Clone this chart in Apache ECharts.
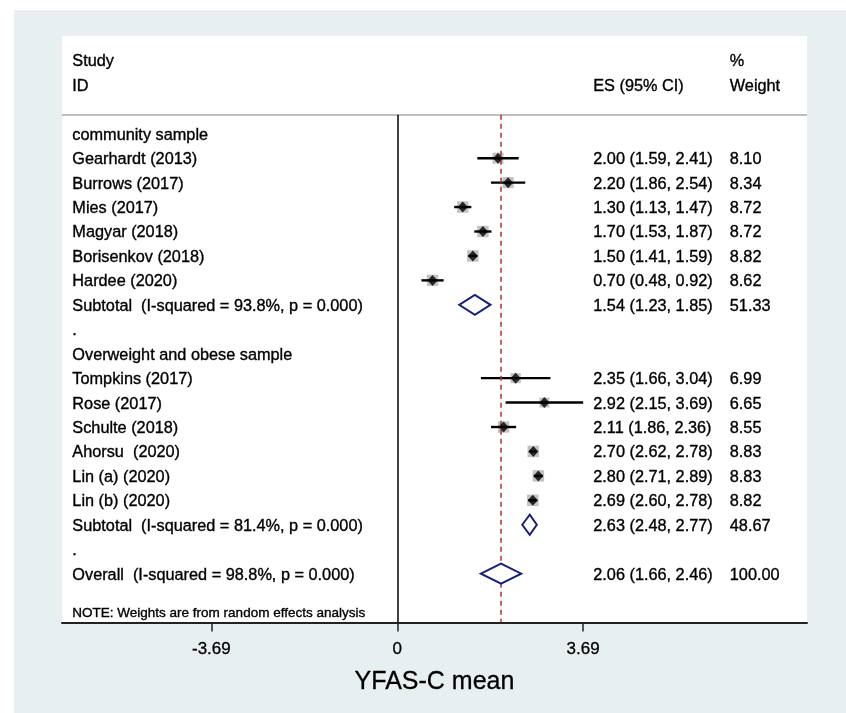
<!DOCTYPE html>
<html>
<head>
<meta charset="utf-8">
<script src="https://cdn.jsdelivr.net/npm/echarts@6/dist/echarts.min.js"></script>
<style>
html,body{margin:0;padding:0;background:#fff;}
#chart{width:846px;height:713px;}
</style>
</head>
<body>
<div id="chart"></div>
<script>
// ---------- data ----------
const rowLabels = [
  "community sample",
  "Gearhardt (2013)",
  "Burrows (2017)",
  "Mies (2017)",
  "Magyar (2018)",
  "Borisenkov (2018)",
  "Hardee (2020)",
  "Subtotal  (I-squared = 93.8%, p = 0.000)",
  ".",
  "Overweight and obese sample",
  "Tompkins (2017)",
  "Rose (2017)",
  "Schulte (2018)",
  "Ahorsu  (2020)",
  "Lin (a) (2020)",
  "Lin (b) (2020)",
  "Subtotal  (I-squared = 81.4%, p = 0.000)",
  ".",
  "Overall  (I-squared = 98.8%, p = 0.000)"
];
const studyRows   = [1, 2, 3, 4, 5, 6, 10, 11, 12, 13, 14, 15];
const studyES     = [2.00, 2.20, 1.30, 1.70, 1.50, 0.70, 2.35, 2.92, 2.11, 2.70, 2.80, 2.69];
const studyLo     = [1.59, 1.86, 1.13, 1.53, 1.41, 0.48, 1.66, 2.15, 1.86, 2.62, 2.71, 2.60];
const studyHi     = [2.41, 2.54, 1.47, 1.87, 1.59, 0.92, 3.04, 3.69, 2.36, 2.78, 2.89, 2.78];
const studyWeight = [8.10, 8.34, 8.72, 8.72, 8.82, 8.62, 6.99, 6.65, 8.55, 8.83, 8.83, 8.82];
const pooledRows   = [7, 16, 18];
const pooledES     = [1.54, 2.63, 2.06];
const pooledLo     = [1.23, 2.48, 1.66];
const pooledHi     = [1.85, 2.77, 2.46];
const pooledWeight = [51.33, 48.67, 100.00];
const tickValues = [-3.69, 0, 3.69];
const headerLeft = ["Study", "ID"];
const headerES = "ES (95% CI)";
const headerWeight = ["%", "Weight"];
const noteText = "NOTE: Weights are from random effects analysis";
const axisTitle = "YFAS-C mean";

// ---------- layout constants ----------
const X_MIN = -6.655, X_MAX = 8.133;
const LABEL_X = -6.45, ES_X = 3.89, W_X = 6.60;
const HEADER_ROWS = [-3, -2];
const SEP_ROW = -0.78;
const NOTE_ROW = 19.55;
const TEXT_DY = 1.5;
const FONT = '"Liberation Sans", Arial, Helvetica, sans-serif';
const TXT = '#000';

function fmt(v){ return v.toFixed(2); }
function esText(e,l,h){ return fmt(e) + " (" + fmt(l) + ", " + fmt(h) + ")"; }

function textItem(x, y, text, size){
  return {
    type: 'text', x: x, y: y + TEXT_DY, silent: true,
    style: { text: text, fill: TXT, font: size + 'px ' + FONT,
             stroke: '#000', lineWidth: 0.35,
             align: 'left', verticalAlign: 'middle',
             textAlign: 'left', textVerticalAlign: 'middle' }
  };
}

// rows of text for right columns
const esRows = studyRows.concat(pooledRows);
const esStrings = studyES.map((e,i)=>esText(e, studyLo[i], studyHi[i]))
  .concat(pooledES.map((e,i)=>esText(e, pooledLo[i], pooledHi[i])));
const wStrings = studyWeight.map(fmt).concat(pooledWeight.map(fmt));

const overallES = pooledES[pooledES.length - 1];

const chart = echarts.init(document.getElementById('chart'), null, {renderer: 'canvas'});

const option = {
  backgroundColor: '#ffffff',
  animation: false,
  graphic: [{
    type: 'rect', z: -100, silent: true,
    shape: { x: 14, y: 10, width: 832, height: 703 },
    style: { fill: '#e8eff1' }
  }],
  grid: {
    left: 62, right: 39, top: 36, bottom: 90.5,
    show: true, backgroundColor: '#ffffff', borderWidth: 0
  },
  xAxis: {
    type: 'value', min: X_MIN, max: X_MAX,
    axisLine: { show: true, onZero: false, lineStyle: { color: '#222', width: 2 } },
    axisTick: { show: true, inside: false, length: 9, customValues: tickValues,
                lineStyle: { color: '#222', width: 1.5 } },
    axisLabel: { show: true, customValues: tickValues, margin: 18,
                 fontSize: 17, fontFamily: FONT, color: TXT,
                 textBorderColor: '#000', textBorderWidth: 0.3,
                 formatter: v => (v === 0 ? '0' : v.toFixed(2)) },
    splitLine: { show: false },
    name: axisTitle, nameLocation: 'middle', nameGap: 47,
    nameTextStyle: { fontSize: 25, fontFamily: FONT, color: TXT,
                     textBorderColor: '#000', textBorderWidth: 0.3 }
  },
  yAxis: {
    type: 'value', min: -4, max: 20, inverse: true, show: false,
    splitLine: { show: false }
  },
  series: [
    // reference lines
    {
      type: 'line', data: [], silent: true,
      markLine: {
        silent: true, symbol: 'none', label: { show: false }, animation: false,
        data: [
          [{ coord: [X_MIN, SEP_ROW], lineStyle: { color: '#aaa', width: 1.5, type: 'solid' } },
           { coord: [X_MAX, SEP_ROW] }],
          [{ coord: [0, SEP_ROW], lineStyle: { color: '#111', width: 1.6, type: 'solid' } },
           { coord: [0, 20] }],
          [{ coord: [overallES, SEP_ROW], lineStyle: { color: '#b03030', width: 1.5, type: [5, 4] } },
           { coord: [overallES, 20] }]
        ]
      }
    },
    // weight boxes
    {
      type: 'scatter', silent: true, z: 3,
      data: studyES.map((e,i)=>[e, studyRows[i], studyWeight[i]]),
      symbol: 'rect',
      symbolSize: v => 11.5 * Math.sqrt(v[2] / 8.83),
      itemStyle: { color: '#bcbcbc', opacity: 0.9 }
    },
    // CI lines
    {
      type: 'custom', silent: true, z: 4,
      data: studyES.map((e,i)=>[studyLo[i], studyHi[i], studyRows[i]]),
      encode: { x: [0, 1], y: 2 },
      renderItem: (params, api) => {
        const a = api.coord([api.value(0), api.value(2)]);
        const b = api.coord([api.value(1), api.value(2)]);
        return { type: 'line', shape: { x1: a[0], y1: a[1], x2: b[0], y2: b[1] },
                 style: { stroke: '#000', lineWidth: 2.4 } };
      }
    },
    // point estimate diamonds
    {
      type: 'scatter', silent: true, z: 5,
      data: studyES.map((e,i)=>[e, studyRows[i]]),
      symbol: 'diamond', symbolSize: [10, 11],
      itemStyle: { color: '#000' }
    },
    // pooled diamonds
    {
      type: 'custom', silent: true, z: 5,
      data: pooledES.map((e,i)=>[pooledLo[i], e, pooledHi[i], pooledRows[i]]),
      encode: { x: [0, 1, 2], y: 3 },
      renderItem: (params, api) => {
        const r = api.value(3);
        const l = api.coord([api.value(0), r]);
        const c = api.coord([api.value(1), r]);
        const h = api.coord([api.value(2), r]);
        const hh = 10;
        return { type: 'polygon',
                 shape: { points: [[l[0], l[1]], [c[0], c[1] - hh], [h[0], h[1]], [c[0], c[1] + hh]] },
                 style: { fill: '#ffffff', stroke: '#1b2070', lineWidth: 2 } };
      }
    },
    // left labels
    {
      type: 'custom', silent: true, z: 6,
      data: rowLabels.map((t,i)=>[LABEL_X, i]),
      encode: { x: 0, y: 1 },
      renderItem: (params, api) => {
        const p = api.coord([api.value(0), api.value(1)]);
        return textItem(p[0], p[1], rowLabels[params.dataIndex], 16.3);
      }
    },
    // ES column
    {
      type: 'custom', silent: true, z: 6,
      data: esRows.map(r=>[ES_X, r]),
      encode: { x: 0, y: 1 },
      renderItem: (params, api) => {
        const p = api.coord([api.value(0), api.value(1)]);
        return textItem(p[0], p[1], esStrings[params.dataIndex], 16.3);
      }
    },
    // weight column
    {
      type: 'custom', silent: true, z: 6,
      data: esRows.map(r=>[W_X, r]),
      encode: { x: 0, y: 1 },
      renderItem: (params, api) => {
        const p = api.coord([api.value(0), api.value(1)]);
        return textItem(p[0], p[1], wStrings[params.dataIndex], 16.3);
      }
    },
    // headers and note
    {
      type: 'custom', silent: true, z: 6,
      data: [
        [LABEL_X, HEADER_ROWS[0]], [LABEL_X, HEADER_ROWS[1]],
        [ES_X, HEADER_ROWS[1]],
        [W_X, HEADER_ROWS[0]], [W_X, HEADER_ROWS[1]],
        [LABEL_X, NOTE_ROW]
      ],
      encode: { x: 0, y: 1 },
      renderItem: (params, api) => {
        const texts = [headerLeft[0], headerLeft[1], headerES, headerWeight[0], headerWeight[1], noteText];
        const p = api.coord([api.value(0), api.value(1)]);
        const size = params.dataIndex === 5 ? 13.5 : 16.3;
        return textItem(p[0], p[1], texts[params.dataIndex], size);
      }
    }
  ]
};
chart.setOption(option);
</script>
</body>
</html>
